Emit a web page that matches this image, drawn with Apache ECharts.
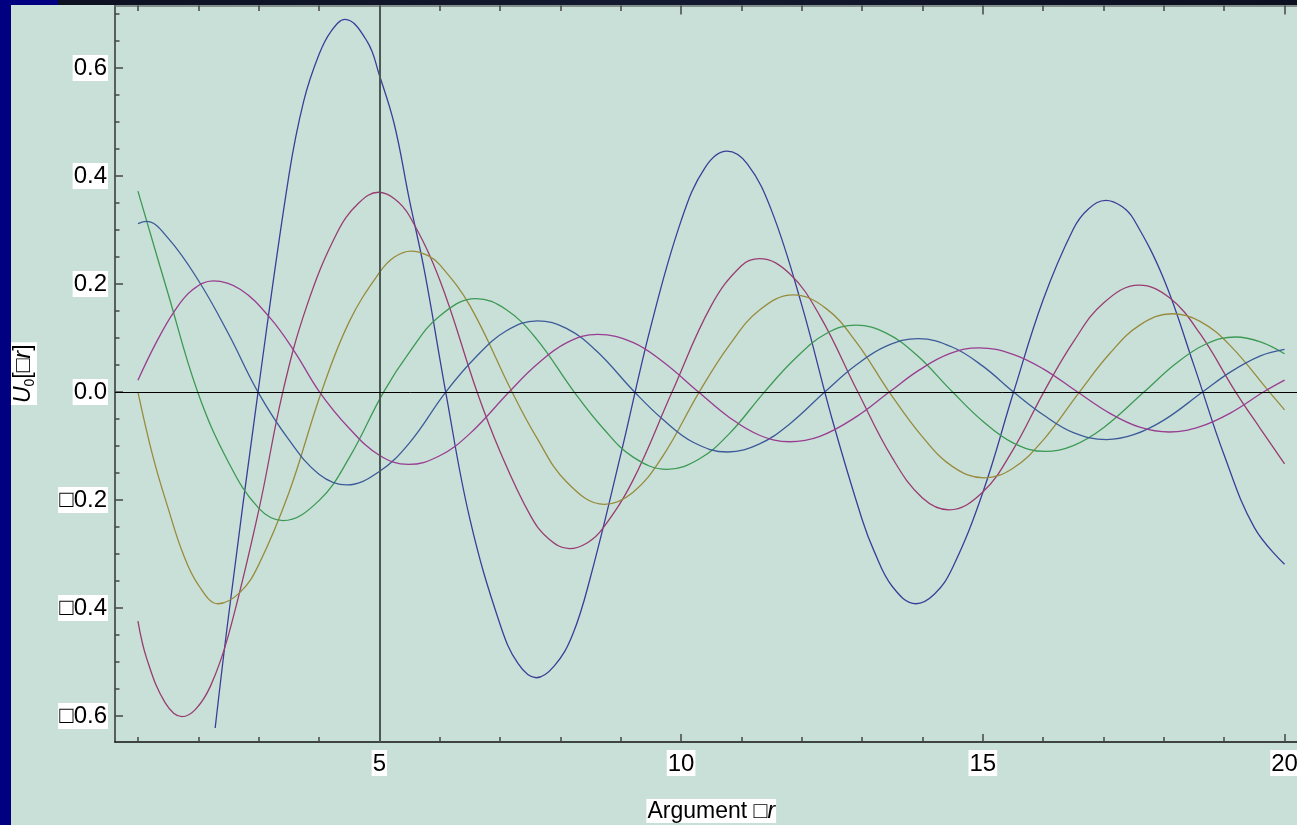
<!DOCTYPE html>
<html><head><meta charset="utf-8">
<script src="https://cdn.jsdelivr.net/npm/echarts@6/dist/echarts.min.js"></script>
<style>html,body{margin:0;padding:0;background:#c8e0d8;}#c{width:1297px;height:825px;}</style>
</head><body><div id="c"></div><script>
// Curve 1 (dark blue)
const X1 = [2.28,2.5,2.99,3.5,3.75,4.0,4.2,4.43,4.8,5.0,5.25,5.5,5.75,6.1,6.5,7.0,7.3,7.6,7.9,8.2,8.5,9.0,9.5,10.0,10.4,10.76,11.1,11.5,12.0,12.5,13.0,13.2,13.5,13.89,14.2,14.5,15.0,15.51,16.0,16.5,16.75,17.04,17.3,17.5,18.0,18.5,19.0,19.5,20];
const Y1 = [-0.622,-0.416,0,0.40,0.54,0.625,0.668,0.690,0.649,0.587,0.495,0.355,0.223,0,-0.235,-0.43,-0.503,-0.529,-0.507,-0.450,-0.342,-0.116,0.122,0.317,0.416,0.446,0.422,0.336,0.161,-0.049,-0.236,-0.295,-0.360,-0.392,-0.374,-0.325,-0.186,0,0.171,0.302,0.339,0.355,0.344,0.320,0.209,0.049,-0.117,-0.251,-0.319];
// Curve 2 (magenta)
const X2 = [1.0,1.15,1.45,1.73,1.95,2.2,2.5,3.0,3.4,3.8,4.3,4.65,4.99,5.25,5.5,6.0,6.62,7.0,7.5,7.8,8.15,8.45,8.7,9.2,9.85,10.5,11.0,11.3,11.8,12.3,12.93,13.5,14.0,14.44,15.0,15.5,16.01,16.5,17.0,17.59,18.1,18.6,19.19,19.6,20];
const Y2 = [-0.424,-0.495,-0.575,-0.601,-0.588,-0.545,-0.450,-0.220,0,0.16,0.295,0.349,0.370,0.358,0.326,0.208,0,-0.110,-0.228,-0.271,-0.290,-0.279,-0.253,-0.164,0,0.160,0.234,0.247,0.219,0.141,0,-0.122,-0.196,-0.218,-0.185,-0.107,0,0.093,0.165,0.198,0.174,0.108,0,-0.068,-0.133];
// Curve 3 (olive)
const X3 = [1.0,1.25,1.5,1.75,2.0,2.33,2.7,3.0,3.5,4.04,4.5,5.0,5.25,5.53,5.8,6.0,6.5,7.2,7.6,8.1,8.73,9.2,9.7,10.3,10.8,11.3,11.86,12.4,12.9,13.45,14.0,14.5,15.02,15.5,16.0,16.6,17.1,17.6,18.14,18.6,19.1,19.75,20];
const Y3 = [0,-0.12,-0.215,-0.30,-0.357,-0.392,-0.370,-0.320,-0.187,0,0.13,0.221,0.250,0.261,0.253,0.236,0.160,0,-0.083,-0.166,-0.208,-0.186,-0.118,0,0.087,0.152,0.180,0.155,0.093,0,-0.083,-0.138,-0.159,-0.141,-0.089,0,0.071,0.124,0.145,0.131,0.086,0,-0.033];
// Curve 4 (green)
const X4 = [1.0,1.5,1.99,2.5,3.0,3.4,4.0,4.5,5.07,5.5,6.0,6.6,7.1,7.6,8.23,8.7,9.2,9.77,10.3,10.8,11.38,11.9,12.4,12.9,13.4,13.9,14.5,15.0,15.5,16.04,16.5,17.0,17.67,18.2,18.7,19.19,19.6,20];
const Y4 = [0.372,0.182,0,-0.13,-0.215,-0.238,-0.201,-0.122,0,0.074,0.141,0.173,0.153,0.099,0,-0.066,-0.120,-0.143,-0.124,-0.077,0,0.063,0.108,0.124,0.109,0.069,0,-0.054,-0.094,-0.110,-0.099,-0.066,0,0.053,0.089,0.102,0.093,0.071];
// Curve 5 (blue)
const X5 = [1.0,1.14,1.5,2.0,2.5,2.99,3.5,4.0,4.46,5.0,5.5,6.1,6.6,7.1,7.62,8.1,8.6,9.23,9.7,10.2,10.77,11.3,11.8,12.38,12.9,13.4,13.93,14.5,15.0,15.51,16.0,16.5,17.05,17.5,18.0,18.64,19.1,19.6,20];
const Y5 = [0.312,0.316,0.285,0.207,0.108,0,-0.088,-0.152,-0.172,-0.147,-0.094,0,0.065,0.113,0.132,0.118,0.076,0,-0.051,-0.093,-0.111,-0.096,-0.059,0,0.050,0.085,0.099,0.083,0.048,0,-0.042,-0.075,-0.088,-0.079,-0.052,0,0.037,0.067,0.079];
// Curve 6 (purple)
const X6 = [1.0,1.3,1.6,1.9,2.25,2.7,3.2,3.6,4.01,4.5,5.0,5.48,6.0,6.5,7.15,7.6,8.1,8.62,9.2,9.7,10.29,10.8,11.3,11.8,12.3,12.9,13.45,13.95,14.45,14.94,15.5,16.0,16.57,17.1,17.6,18.09,18.6,19.1,19.65,20];
const Y6 = [0.022,0.091,0.149,0.189,0.206,0.190,0.136,0.074,0,-0.067,-0.117,-0.134,-0.118,-0.077,0,0.050,0.091,0.107,0.092,0.056,0,-0.047,-0.080,-0.092,-0.082,-0.046,0,0.041,0.071,0.082,0.070,0.043,0,-0.039,-0.065,-0.074,-0.064,-0.039,0,0.022];
// ticks and tick labels
const xMajor = [5,10,15,20];
const xMinor = [1,2,3,4,6,7,8,9,11,12,13,14,16,17,18,19];
const yMajor = [-0.6,-0.4,-0.2,0,0.2,0.4,0.6];
const yMinor = [-0.55,-0.5,-0.45,-0.35,-0.3,-0.25,-0.15,-0.1,-0.05,0.05,0.1,0.15,0.25,0.3,0.35,0.45,0.5,0.55,0.65,0.7];
const yLabels = ['\u25A10.6','\u25A10.4','\u25A10.2','0.0','0.2','0.4','0.6'];
const COLORS = ['#3d3d99','#993d71','#998b3d','#3d9954','#3d5a99','#993d90'];

const FONT = '"Liberation Sans Narrow","Arial Narrow","Liberation Sans",Arial,sans-serif';
const XMIN = 0.62, XMAX = 20.38, YMIN = -0.648, YMAX = 0.716;
const pairs = (xs, ys) => xs.map((x, i) => [x, ys[i]]);
const labelStyle = {fontSize: 24, fontFamily: FONT, color: '#000', backgroundColor: '#fff', padding: [2, 1, 0, 1]};

function xAx(pos, ticks, len, main) {
  const isMainBottom = main && pos === 'bottom';
  return {
    type: 'value', min: XMIN, max: XMAX, position: pos, offset: 0,
    axisLine: {show: main, onZero: false, lineStyle: {color: pos === 'top' ? '#6b7470' : '#111', width: 1.5}},
    axisTick: {show: true, inside: true, length: len, customValues: ticks, lineStyle: {color: '#454545', width: 1.5}},
    axisLabel: isMainBottom ? Object.assign({customValues: xMajor, margin: 8, formatter: v => String(v)}, labelStyle) : {show: false},
    splitLine: {show: false},
    name: isMainBottom ? '{n|Argument \u25A1}{i|r}' : '',
    nameLocation: 'middle', nameGap: 57,
    nameTextStyle: {backgroundColor: '#fff', padding: [1, 1, 0, 1],
      rich: {n: {fontSize: 23, fontFamily: FONT, color: '#000'}, i: {fontSize: 23, fontFamily: FONT, fontStyle: 'italic', color: '#000'}}}
  };
}
function yAx(ticks, len, main) {
  return {
    type: 'value', min: YMIN, max: YMAX, position: 'left', offset: 0,
    axisLine: {show: main, onZero: false, lineStyle: {color: '#333', width: 1.5}},
    axisTick: {show: true, inside: true, length: len, customValues: ticks, lineStyle: {color: '#454545', width: 1.5}},
    axisLabel: main ? Object.assign({customValues: yMajor, margin: 7,
      formatter: v => yLabels[yMajor.findIndex(t => Math.abs(t - v) < 1e-6)]}, labelStyle) : {show: false},
    splitLine: {show: false},
    name: main ? '{i|U}{s|0}{n|[\u25A1}{i|r}{n|]}' : '',
    nameLocation: 'middle', nameRotate: 90, nameGap: 78,
    nameTextStyle: {backgroundColor: '#fff', padding: [1, 2, 0, 2],
      rich: {
        n: {fontSize: 23, fontFamily: FONT, color: '#000', lineHeight: 27},
        i: {fontSize: 23, fontFamily: FONT, fontStyle: 'italic', color: '#000', lineHeight: 27},
        s: {fontSize: 14, fontFamily: FONT, color: '#000', lineHeight: 27, verticalAlign: 'bottom'}
      }}
  };
}

const seriesData = [pairs(X1, Y1), pairs(X2, Y2), pairs(X3, Y3), pairs(X4, Y4), pairs(X5, Y5), pairs(X6, Y6)];
const series = seriesData.map((d, i) => ({
  type: 'line', data: d, smooth: 0.4, showSymbol: false, symbol: 'none',
  lineStyle: {color: COLORS[i], width: 1.3}, itemStyle: {color: COLORS[i]},
  xAxisIndex: 0, yAxisIndex: 0, z: 3, silent: true
}));
series[0].markLine = {
  silent: true, symbol: 'none', label: {show: false}, animation: false,
  data: [
    {xAxis: 5, lineStyle: {color: '#4d5753', width: 2, type: 'solid'}},
    {yAxis: 0, lineStyle: {color: '#000', width: 1, type: 'solid'}}
  ]
};

const chart = echarts.init(document.getElementById('c'), null, {renderer: 'canvas'});
chart.setOption({
  backgroundColor: '#c8e0d8',
  animation: false,
  grid: {left: 115, top: 5.4, width: 1192.5, height: 736.6, outerBoundsMode: 'none', containLabel: false},
  xAxis: [xAx('bottom', xMajor, 8, true), xAx('bottom', xMinor, 5, false), xAx('top', xMajor, 9, true), xAx('top', xMinor, 5.5, false)],
  yAxis: [yAx(yMajor, 8, true), yAx(yMinor, 4.5, false)],
  series: series,
  graphic: [
    {type: 'rect', shape: {x: 0, y: 0, width: 1297, height: 5}, style: {fill: {type: 'linear', x: 0, y: 0, x2: 1, y2: 0, colorStops: [{offset: 0, color: '#0c1020'}, {offset: 0.5, color: '#141a30'}, {offset: 1, color: '#0c1020'}]}}, z: 100},
    {type: 'rect', shape: {x: 0, y: 0, width: 58, height: 5}, style: {fill: '#000080'}, z: 101},
    {type: 'rect', shape: {x: 0, y: 0, width: 11, height: 825}, style: {fill: '#000080'}, z: 101}
  ]
});
</script></body></html>
